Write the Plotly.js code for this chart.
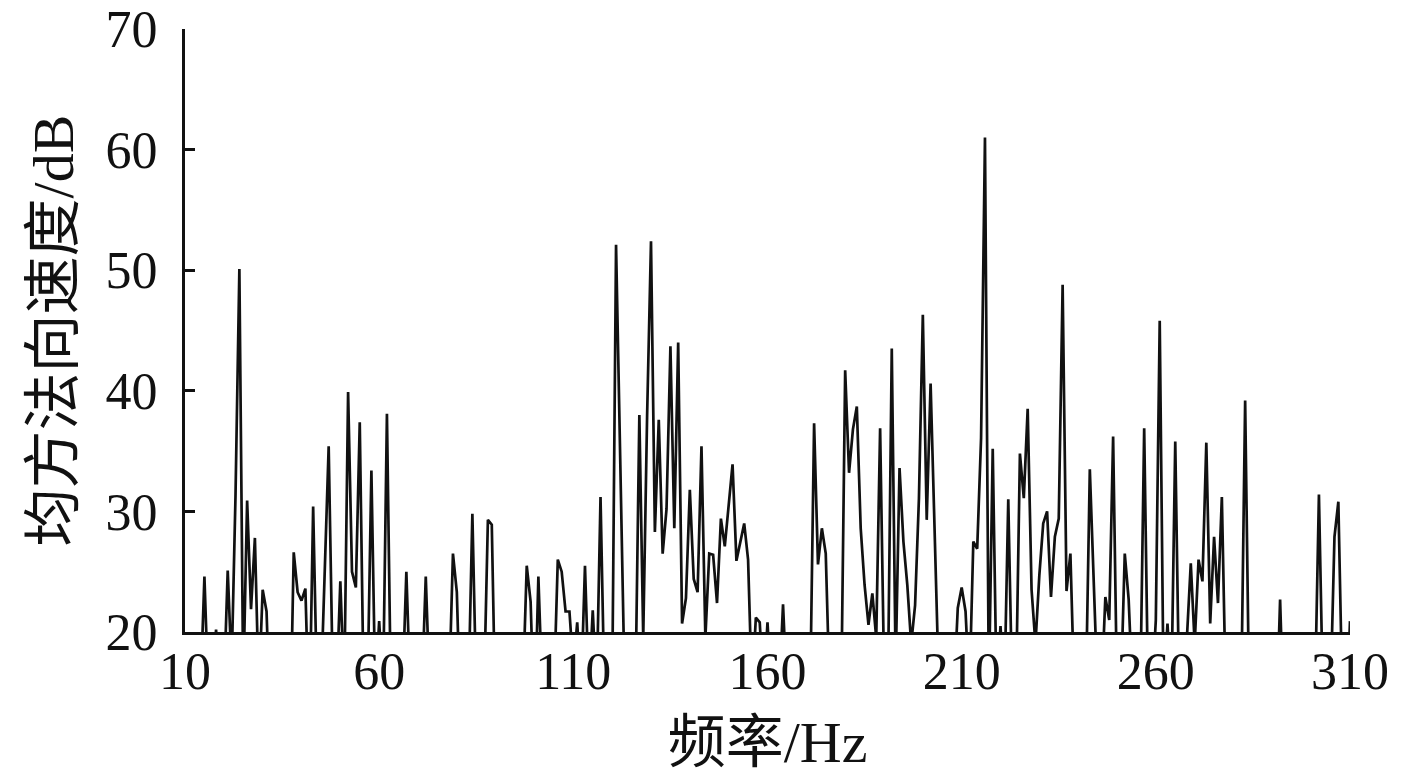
<!DOCTYPE html>
<html>
<head>
<meta charset="utf-8">
<script src="https://cdn.plot.ly/plotly-3.0.1.min.js"></script>
<style>
  html, body { margin: 0; padding: 0; background: #fff; }
  #chart { width: 1417px; height: 777px; }
</style>
</head>
<body>
<div id="chart"></div>
<script>
// frequency (Hz), one sample per Hz, 10..310
var freqStart = 10;
var freqEnd = 310;

// mean square normal velocity (dB); values under 20 sit below the axis and are clipped
var level = [
  15, 15, 15, 15, 15, 24.6, 15, 15, 20.2, 15,          // 10-19
  15, 25.1, 17, 31.2, 50.1, 15.5, 30.9, 21.9, 27.8, 15, // 20-29
  23.5, 21.7, 12, 15, 15, 15, 15, 10, 26.6, 23.3,       // 30-39
  22.6, 23.6, 12, 30.4, 15, 15, 26.2, 35.4, 17, 15,     // 40-49
  24.2, 15, 39.9, 25.0, 23.7, 37.4, 15, 15, 33.4, 15,   // 50-59
  20.9, 15, 38.1, 15, 15, 15, 15, 25.0, 15, 15,         // 60-69
  15, 15, 24.6, 15, 15, 15, 15, 15, 15, 26.5,           // 70-79
  23.3, 12, 15, 15, 29.8, 15, 15, 15, 29.3, 28.9,       // 80-89
  12, 15, 15, 15, 15, 15, 15, 15, 25.5, 22.5,           // 90-99
  12, 24.6, 15, 15, 15, 15, 26.0, 25.0, 21.7, 21.7,     // 100-109
  17, 20.8, 15, 25.5, 15, 21.8, 15, 31.2, 15, 15,       // 110-119
  15, 52.1, 36, 19, 15, 15, 15, 38.0, 19.5, 38.0,       // 120-129
  52.4, 28.3, 37.6, 26.5, 30.2, 43.7, 28.6, 44.0, 20.7, 22.8, // 130-139
  31.8, 24.4, 23.3, 35.4, 19.5, 26.5, 26.4, 22.4, 29.4, 27.1, // 140-149
  30.5, 33.9, 25.9, 27.5, 29.0, 26.0, 15, 21.2, 20.8, 15,     // 150-159
  20.8, 15, 15, 15, 22.3, 15, 15, 15, 15, 15,           // 160-169
  15, 15, 37.3, 25.6, 28.6, 26.5, 15, 15, 15, 15,       // 170-179
  41.7, 33.2, 36.8, 38.7, 28.6, 23.9, 20.6, 23.2, 19.5, 36.9, // 180-189
  17, 15, 43.5, 17, 33.6, 27.5, 23.9, 19, 22.2, 31.1,   // 190-199
  46.3, 29.3, 40.6, 29, 17, 15, 15, 15, 15, 22.0,       // 200-209
  23.7, 21.7, 15, 27.5, 26.9, 36.1, 61.0, 15, 35.2, 15, // 210-219
  20.5, 15, 31.0, 15, 15, 34.8, 31.1, 38.5, 23.5, 19,   // 220-229
  24.7, 29.0, 30.0, 22.9, 27.9, 29.4, 48.8, 23.4, 26.5, 15, // 230-239
  15, 15, 15, 33.5, 22.7, 15, 15, 22.9, 21.0, 36.2,     // 240-249
  15, 15, 26.5, 22.7, 15, 15, 15, 36.9, 15, 15,         // 250-259
  21.0, 45.8, 15, 20.7, 15, 35.8, 15, 15, 19.5, 25.7,   // 260-269
  19, 26.0, 24.2, 35.7, 20.7, 27.9, 22.4, 31.2, 15, 15, // 270-279
  15, 15, 15, 39.2, 15, 15, 15, 15, 15, 15,             // 280-289
  15, 12, 22.7, 12, 15, 15, 15, 15, 15, 15,             // 290-299
  15, 15, 31.4, 15, 15, 15, 27.9, 30.8, 15, 12,         // 300-309
  20.9                                                  // 310
];

var xTicks = [10, 60, 110, 160, 210, 260, 310];
var yTicks = [20, 30, 40, 50, 60, 70];
var xTitle = '频率/Hz';
var yTitle = '均方法向速度/dB';

var freq = level.map(function (v, i) { return freqStart + i; });

var fontFam = 'Liberation Serif, Times New Roman, Noto Sans CJK SC, serif';

var trace = {
  x: freq,
  y: level,
  type: 'scatter',
  mode: 'lines',
  line: {color: '#111', width: 2.7},
  hoverinfo: 'x+y'
};

var layout = {
  width: 1417,
  height: 777,
  margin: {l: 185, r: 67, t: 29, b: 145},
  paper_bgcolor: '#fff',
  plot_bgcolor: '#fff',
  showlegend: false,
  font: {family: fontFam, color: '#111'},
  xaxis: {
    range: [freqStart, freqEnd],
    tickvals: xTicks,
    ticks: '',
    showline: true,
    linewidth: 3,
    linecolor: '#111',
    showgrid: false,
    zeroline: false,
    tickfont: {family: fontFam, size: 52, color: '#111'},
    ticklabelstandoff: -8,
    title: {text: xTitle, font: {family: fontFam, size: 58, color: '#111'}, standoff: 22}
  },
  yaxis: {
    range: [20, 70],
    tickvals: yTicks,
    ticks: 'inside',
    ticklen: 10,
    tickwidth: 3,
    tickcolor: '#111',
    showline: true,
    linewidth: 3,
    linecolor: '#111',
    showgrid: false,
    zeroline: false,
    tickfont: {family: fontFam, size: 52, color: '#111'},
    ticklabelstandoff: 14,
    title: {text: yTitle, font: {family: fontFam, size: 58, color: '#111'}, standoff: 14}
  }
};

Plotly.newPlot('chart', [trace], layout, {displayModeBar: false, staticPlot: true});
</script>
</body>
</html>
